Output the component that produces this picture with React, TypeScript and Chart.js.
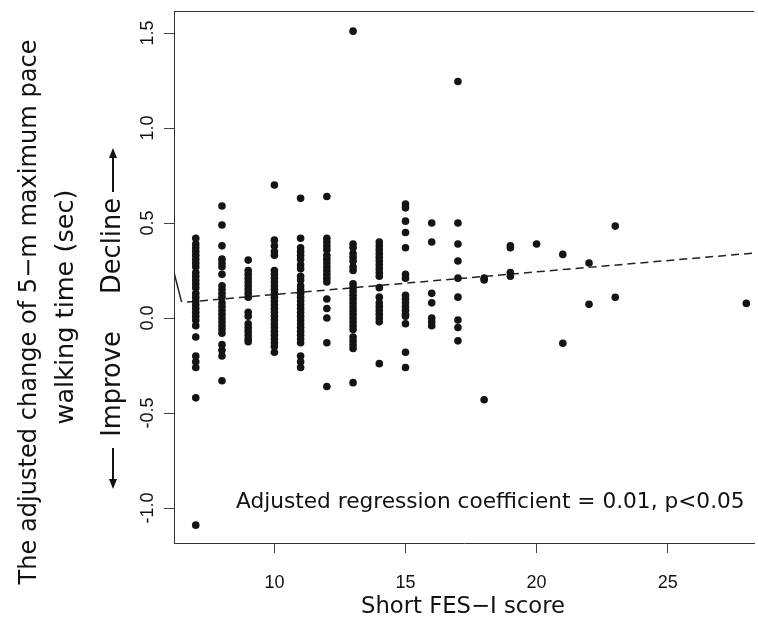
import React, { useEffect, useRef } from "react";
import { Chart, registerables } from "chart.js";

Chart.register(...registerables);

// ---- data ----
const xTicks = [10, 15, 20, 25];
const xTickLabels = ["10", "15", "20", "25"];
const yTicks = [-1.0, -0.5, 0.0, 0.5, 1.0, 1.5];
const yTickLabels = ["-1.0", "-0.5", "0.0", "0.5", "1.0", "1.5"];

const fesScores = [7, 8, 9, 10, 11, 12, 13, 14, 15, 16, 17, 18, 19, 20, 21, 22, 23, 28];

const change7 = [0.42, 0.39, 0.37, 0.35, 0.33, 0.31, 0.29, 0.27, 0.24, 0.22, 0.2, 0.18, 0.16, 0.13, 0.11, 0.09, 0.07, 0.05, 0.03, 0.01, -0.01, -0.04, -0.1, -0.2, -0.23, -0.26, -0.42, -1.09];
const change8 = [0.59, 0.49, 0.38, 0.31, 0.29, 0.27, 0.23, 0.17, 0.15, 0.13, 0.11, 0.08, 0.06, 0.04, 0.02, 0.0, -0.02, -0.04, -0.06, -0.08, -0.14, -0.17, -0.2, -0.33];
const change9 = [0.305, 0.25, 0.23, 0.21, 0.19, 0.17, 0.15, 0.13, 0.11, 0.03, 0.01, -0.03, -0.05, -0.07, -0.09, -0.11, -0.125];
const change10 = [0.7, 0.41, 0.38, 0.35, 0.33, 0.25, 0.23, 0.21, 0.19, 0.17, 0.15, 0.13, 0.11, 0.09, 0.07, 0.05, 0.03, 0.01, -0.01, -0.03, -0.05, -0.07, -0.09, -0.11, -0.13, -0.15, -0.18];
const change11 = [0.63, 0.42, 0.37, 0.35, 0.33, 0.31, 0.28, 0.26, 0.22, 0.2, 0.17, 0.15, 0.13, 0.11, 0.09, 0.07, 0.05, 0.03, 0.01, -0.01, -0.03, -0.05, -0.07, -0.09, -0.11, -0.13, -0.2, -0.23, -0.26];
const change12 = [0.64, 0.42, 0.4, 0.38, 0.36, 0.33, 0.31, 0.29, 0.27, 0.25, 0.23, 0.21, 0.19, 0.1, 0.05, 0.0, -0.13, -0.36];
const change13 = [1.51, 0.39, 0.37, 0.34, 0.32, 0.3, 0.27, 0.25, 0.18, 0.16, 0.14, 0.12, 0.1, 0.08, 0.06, 0.04, 0.02, 0.0, -0.02, -0.04, -0.06, -0.1, -0.12, -0.14, -0.16, -0.34];
const change14 = [0.4, 0.38, 0.36, 0.34, 0.32, 0.3, 0.28, 0.26, 0.24, 0.22, 0.16, 0.11, 0.08, 0.06, 0.04, 0.02, 0.0, -0.02, -0.24];
const change15 = [0.6, 0.58, 0.51, 0.45, 0.37, 0.23, 0.21, 0.12, 0.1, 0.08, 0.06, 0.04, 0.02, 0.01, -0.03, -0.18, -0.26];
const change16 = [0.5, 0.4, 0.13, 0.08, 0.0, -0.02, -0.04];
const change17 = [1.245, 0.5, 0.39, 0.3, 0.21, 0.11, -0.01, -0.05, -0.12];
const change18 = [0.21, 0.2, -0.43];
const change19 = [0.38, 0.37, 0.24, 0.22];
const change20 = [0.39];
const change21 = [0.335, -0.133];
const change22 = [0.29, 0.072];
const change23 = [0.484, 0.109];
const change28 = [0.077];

const changeByScore = [change7, change8, change9, change10, change11, change12, change13, change14, change15, change16, change17, change18, change19, change20, change21, change22, change23, change28];

// regression line (dashed) and short solid segment
const regX = [6.67, 28.3];
const regY = [0.084, 0.342];
const segX = [6.17, 6.46];
const segY = [0.24, 0.084];

const xMin = 6.17;
const xMax = 28.3;
const yMin = -1.184;
const yMax = 1.616;

const yTitle1 = "The adjusted change of 5\u2212m maximum pace";
const yTitle2 = "walking time (sec)";
const xTitle = "Short FES\u2212I score";
const annotation = "Adjusted regression coefficient = 0.01, p<0.05";

const TITLE_FONT = '"DejaVu Sans", "Noto Sans CJK JP", sans-serif';
const NARROW = '"Liberation Sans Narrow", "Liberation Sans", Arial, sans-serif';

export default function App() {
  const ref = useRef<HTMLCanvasElement | null>(null);
  useEffect(() => {
    const canvas = ref.current;
    if (!canvas) return;
    const points: { x: number; y: number }[] = [];
    fesScores.forEach((s, i) => changeByScore[i].forEach((v) => points.push({ x: s, y: v })));

    const textPlugin = {
      id: "rtext",
      afterDraw(chart: any) {
        const ctx = chart.ctx as CanvasRenderingContext2D;
        const xs = chart.scales.x;
        const ys = chart.scales.y;
        const area = chart.chartArea;
        const fit = (t: string, w: number) => {
          ctx.font = `20px ${TITLE_FONT}`;
          const m = ctx.measureText(t).width;
          ctx.font = `${(20 * w) / m}px ${TITLE_FONT}`;
        };
        ctx.save();
        // top border
        ctx.strokeStyle = "#333";
        ctx.lineWidth = 1;
        ctx.beginPath();
        ctx.moveTo(area.left, area.top + 0.5);
        ctx.lineTo(area.right, area.top + 0.5);
        ctx.stroke();

        ctx.fillStyle = "#111";
        // x tick labels
        ctx.font = `18px ${NARROW}`;
        ctx.textAlign = "center";
        ctx.textBaseline = "middle";
        xTicks.forEach((v, i) => {
          ctx.fillText(xTickLabels[i], xs.getPixelForValue(v), 583);
        });
        // y tick labels (rotated)
        yTicks.forEach((v, i) => {
          ctx.save();
          ctx.translate(148, ys.getPixelForValue(v));
          ctx.rotate(-Math.PI / 2);
          ctx.fillText(yTickLabels[i], 0, 0);
          ctx.restore();
        });
        // x title
        fit(xTitle, 204);
        ctx.fillText(xTitle, 463, 607);
        // y titles
        ctx.save();
        ctx.translate(30, 312);
        ctx.rotate(-Math.PI / 2);
        fit(yTitle1, 545);
        ctx.fillText(yTitle1, 0, 0);
        ctx.restore();
        ctx.save();
        ctx.translate(66, 307);
        ctx.rotate(-Math.PI / 2);
        fit(yTitle2, 235);
        ctx.fillText(yTitle2, 0, 0);
        ctx.restore();
        // Improve / Decline
        ctx.save();
        ctx.translate(113, 0);
        ctx.rotate(-Math.PI / 2);
        fit("Decline", 96);
        ctx.fillText("Decline", -246, 0);
        ctx.fillText("Improve", -384, 0);
        ctx.restore();
        // arrows
        const arrow = (x: number, y0: number, y1: number) => {
          ctx.strokeStyle = "#111";
          ctx.lineWidth = 2;
          ctx.beginPath();
          ctx.moveTo(x, y0);
          ctx.lineTo(x, y1);
          ctx.stroke();
          const dir = y1 < y0 ? -1 : 1;
          ctx.beginPath();
          ctx.moveTo(x, y1 + dir * 2);
          ctx.lineTo(x - 4, y1 - dir * 8);
          ctx.lineTo(x + 4, y1 - dir * 8);
          ctx.closePath();
          ctx.fill();
        };
        arrow(113, 192, 150);
        arrow(113, 448, 487);
        // annotation
        fit(annotation, 509);
        ctx.textAlign = "left";
        ctx.fillText(annotation, 236, 502);
        ctx.restore();
      },
    };

    const chart = new Chart(canvas, {
      type: "scatter",
      data: {
        datasets: [
          {
            type: "scatter",
            data: points,
            pointRadius: 3.8,
            pointBackgroundColor: "#141414",
            pointBorderColor: "#141414",
            pointBorderWidth: 0,
            pointHoverRadius: 3.8,
          } as any,
          {
            type: "line",
            data: regX.map((x, i) => ({ x, y: regY[i] })),
            borderColor: "#222",
            borderWidth: 1.5,
            borderDash: [8, 5],
            pointRadius: 0,
            fill: false,
          } as any,
          {
            type: "line",
            data: segX.map((x, i) => ({ x, y: segY[i] })),
            borderColor: "#222",
            borderWidth: 1.5,
            pointRadius: 0,
            fill: false,
          } as any,
        ],
      },
      options: {
        responsive: false,
        animation: false,
        devicePixelRatio: 1,
        layout: { padding: { top: 11, right: 0, left: 0, bottom: 0 } },
        plugins: { legend: { display: false }, tooltip: { enabled: false } },
        scales: {
          x: {
            type: "linear",
            min: xMin,
            max: xMax,
            afterBuildTicks: (s: any) => {
              s.ticks = xTicks.map((v) => ({ value: v }));
            },
            afterFit: (s: any) => {
              s.height = 82;
            },
            ticks: { display: false },
            grid: { drawOnChartArea: false, drawTicks: true, tickLength: 10, color: "#444", lineWidth: 1 },
            border: { display: true, color: "#333", width: 1 },
          },
          y: {
            type: "linear",
            min: yMin,
            max: yMax,
            afterBuildTicks: (s: any) => {
              s.ticks = yTicks.map((v) => ({ value: v }));
            },
            afterFit: (s: any) => {
              s.width = 174;
            },
            ticks: { display: false },
            grid: { drawOnChartArea: false, drawTicks: true, tickLength: 10, color: "#444", lineWidth: 1 },
            border: { display: true, color: "#333", width: 1 },
          },
        },
      } as any,
      plugins: [textPlugin],
    });
    return () => chart.destroy();
  }, []);

  return (
    <div style={{ position: "fixed", left: 0, top: 0, width: 758, height: 625, background: "#fff" }}>
      <canvas ref={ref} width={758} height={625} style={{ width: 758, height: 625, display: "block" }} />
    </div>
  );
}
